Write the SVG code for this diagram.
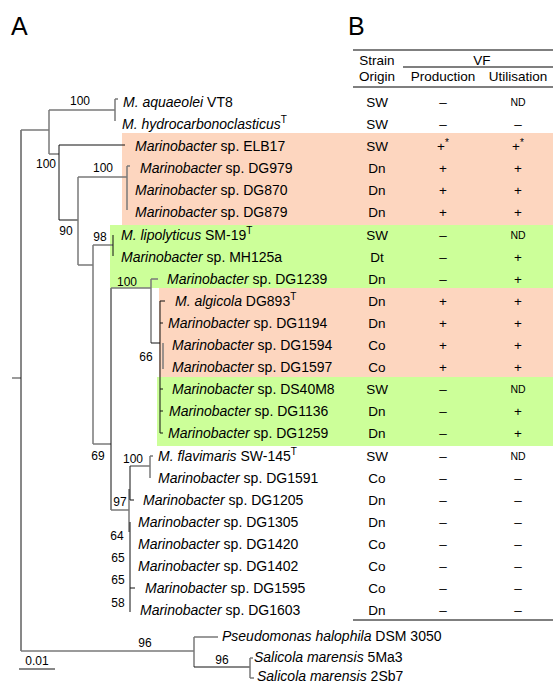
<svg xmlns="http://www.w3.org/2000/svg" width="553" height="683" viewBox="0 0 553 683">
<style>
text{font-family:"Liberation Sans",Arial,sans-serif;fill:#000}
.lab{font-size:14px}
.bs{font-size:12px;text-anchor:middle}
.cell{font-size:13.5px;text-anchor:middle}
.nd{font-size:10.5px;text-anchor:middle}
.hd{font-size:13.5px;text-anchor:middle}
.big{font-size:25px}
.it{font-style:italic}
.sup{font-size:10px}
.g{stroke:#7a7a7a;stroke-width:1.5;fill:none}
.k{stroke:#111;stroke-width:1;fill:none}
.rule{stroke:#000;stroke-width:1.2}
.or{fill:#FDD6BF}
.gr{fill:#CCFF99}
</style>
<rect width="553" height="683" fill="#fff"/>
<g id="bands">
<rect class="or" x="122" y="133" width="431" height="92"/>
<rect class="gr" x="110" y="225" width="443" height="63"/>
<rect class="or" x="159" y="288" width="394" height="89"/>
<rect class="gr" x="157" y="377" width="396" height="69"/>
</g>
<text class="big" x="11" y="35">A</text>
<text class="big" x="348" y="35">B</text>
<g id="header">
<line class="rule" x1="353" y1="50" x2="553" y2="50"/>
<line class="rule" x1="403" y1="67" x2="553" y2="67"/>
<line class="rule" x1="353" y1="87" x2="553" y2="87"/>
<line class="rule" x1="353" y1="620" x2="553" y2="620"/>
<text class="hd" x="377" y="65">Strain</text>
<text class="hd" x="482" y="65">VF</text>
<text class="hd" x="377" y="81">Origin</text>
<text class="hd" x="443" y="81">Production</text>
<text class="hd" x="518" y="81">Utilisation</text>
</g>
<g id="connectors">
<path class="g" d="M12,378H21"/>
<path class="k" d="M21,130V651"/>
<path class="g" d="M21,130H49M49,110V154M49,110H115M115,99V121M115,99H118M49,154H59"/>
<path class="k" d="M59,145V220M59,145H125M59,220H78"/>
<path class="g" d="M78,177V265M78,177H127M127,166V210M127,166H130M78,265H93M93,245V444M93,245H113"/>
<path class="k" d="M113,235V256"/>
<path class="g" d="M93,444H111"/>
<path class="k" d="M111,288V510"/>
<path class="g" d="M111,288H151M151,279V343M151,279H158"/>
<path class="k" d="M151,343H160M160,301V433M160,301H165M160,323H163M160,389H163M160,411H163M160,433H163"/>
<path class="g" d="M163,343V369"/>
<path class="g" d="M111,510H129M129,489V532M130,466H150M150,456V478M150,456H153"/>
<path class="k" d="M130,466V500M130,500H134M130,522V612M130,588H135"/>
<path class="g" d="M21,651H194M194,637V667M194,637H218"/>
<path class="k" d="M194,667H250"/>
<path class="g" d="M250,658V678M250,658H253M250,678H254"/>
<path class="k" d="M19,669H55"/>
</g>
<g id="bootstrap">
<text class="bs" x="80" y="105">100</text>
<text class="bs" x="46" y="168">100</text>
<text class="bs" x="66" y="235">90</text>
<text class="bs" x="103" y="172">100</text>
<text class="bs" x="100" y="241">98</text>
<text class="bs" x="127" y="286">100</text>
<text class="bs" x="146" y="361">66</text>
<text class="bs" x="98" y="460">69</text>
<text class="bs" x="133" y="463">100</text>
<text class="bs" x="120" y="506">97</text>
<text class="bs" x="117" y="540">64</text>
<text class="bs" x="118" y="562">65</text>
<text class="bs" x="118" y="584">65</text>
<text class="bs" x="118" y="607">58</text>
<text class="bs" x="145" y="647">96</text>
<text class="bs" x="222" y="664">96</text>
<text class="bs" x="37" y="665">0.01</text>
</g>
<g id="r0"><text class="lab" x="123" y="107"><tspan class="it">M. aquaeolei</tspan> VT8</text><text class="cell" x="377" y="107">SW</text><text class="cell" x="443" y="107">–</text><text class="nd" x="518" y="106">ND</text></g>
<g id="r1"><text class="lab" x="122" y="129"><tspan class="it">M. hydrocarbonoclasticus</tspan><tspan class="sup" dy="-6">T</tspan></text><text class="cell" x="377" y="129">SW</text><text class="cell" x="443" y="129">–</text><text class="cell" x="518" y="129">–</text></g>
<g id="r2"><text class="lab" x="135" y="151"><tspan class="it">Marinobacter</tspan> sp. ELB17</text><text class="cell" x="377" y="151">SW</text><text class="cell" x="443" y="151">+<tspan class="sup" dy="-5">*</tspan></text><text class="cell" x="518" y="151">+<tspan class="sup" dy="-5">*</tspan></text></g>
<g id="r3"><text class="lab" x="140" y="173"><tspan class="it">Marinobacter</tspan> sp. DG979</text><text class="cell" x="377" y="173">Dn</text><text class="cell" x="443" y="173">+</text><text class="cell" x="518" y="173">+</text></g>
<g id="r4"><text class="lab" x="135" y="195"><tspan class="it">Marinobacter</tspan> sp. DG870</text><text class="cell" x="377" y="195">Dn</text><text class="cell" x="443" y="195">+</text><text class="cell" x="518" y="195">+</text></g>
<g id="r5"><text class="lab" x="135" y="217"><tspan class="it">Marinobacter</tspan> sp. DG879</text><text class="cell" x="377" y="217">Dn</text><text class="cell" x="443" y="217">+</text><text class="cell" x="518" y="217">+</text></g>
<g id="r6"><text class="lab" x="121" y="240"><tspan class="it">M. lipolyticus</tspan> SM-19<tspan class="sup" dy="-6">T</tspan></text><text class="cell" x="377" y="240">SW</text><text class="cell" x="443" y="240">–</text><text class="nd" x="518" y="239">ND</text></g>
<g id="r7"><text class="lab" x="121" y="262"><tspan class="it">Marinobacter</tspan> sp. MH125a</text><text class="cell" x="377" y="262">Dt</text><text class="cell" x="443" y="262">–</text><text class="cell" x="518" y="262">+</text></g>
<g id="r8"><text class="lab" x="167" y="284"><tspan class="it">Marinobacter</tspan> sp. DG1239</text><text class="cell" x="377" y="284">Dn</text><text class="cell" x="443" y="284">–</text><text class="cell" x="518" y="284">+</text></g>
<g id="r9"><text class="lab" x="175" y="306"><tspan class="it">M. algicola</tspan> DG893<tspan class="sup" dy="-6">T</tspan></text><text class="cell" x="377" y="306">Dn</text><text class="cell" x="443" y="306">+</text><text class="cell" x="518" y="306">+</text></g>
<g id="r10"><text class="lab" x="168" y="328"><tspan class="it">Marinobacter</tspan> sp. DG1194</text><text class="cell" x="377" y="328">Dn</text><text class="cell" x="443" y="328">+</text><text class="cell" x="518" y="328">+</text></g>
<g id="r11"><text class="lab" x="172" y="350"><tspan class="it">Marinobacter</tspan> sp. DG1594</text><text class="cell" x="377" y="350">Co</text><text class="cell" x="443" y="350">+</text><text class="cell" x="518" y="350">+</text></g>
<g id="r12"><text class="lab" x="172" y="372"><tspan class="it">Marinobacter</tspan> sp. DG1597</text><text class="cell" x="377" y="372">Co</text><text class="cell" x="443" y="372">+</text><text class="cell" x="518" y="372">+</text></g>
<g id="r13"><text class="lab" x="172" y="394"><tspan class="it">Marinobacter</tspan> sp. DS40M8</text><text class="cell" x="377" y="394">SW</text><text class="cell" x="443" y="394">–</text><text class="nd" x="518" y="393">ND</text></g>
<g id="r14"><text class="lab" x="169" y="416"><tspan class="it">Marinobacter</tspan> sp. DG1136</text><text class="cell" x="377" y="416">Dn</text><text class="cell" x="443" y="416">–</text><text class="cell" x="518" y="416">+</text></g>
<g id="r15"><text class="lab" x="168" y="438"><tspan class="it">Marinobacter</tspan> sp. DG1259</text><text class="cell" x="377" y="438">Dn</text><text class="cell" x="443" y="438">–</text><text class="cell" x="518" y="438">+</text></g>
<g id="r16"><text class="lab" x="158" y="461"><tspan class="it">M. flavimaris</tspan> SW-145<tspan class="sup" dy="-6">T</tspan></text><text class="cell" x="377" y="461">SW</text><text class="cell" x="443" y="461">–</text><text class="nd" x="518" y="460">ND</text></g>
<g id="r17"><text class="lab" x="158" y="483"><tspan class="it">Marinobacter</tspan> sp. DG1591</text><text class="cell" x="377" y="483">Co</text><text class="cell" x="443" y="483">–</text><text class="cell" x="518" y="483">–</text></g>
<g id="r18"><text class="lab" x="143" y="505"><tspan class="it">Marinobacter</tspan> sp. DG1205</text><text class="cell" x="377" y="505">Dn</text><text class="cell" x="443" y="505">–</text><text class="cell" x="518" y="505">–</text></g>
<g id="r19"><text class="lab" x="138" y="527"><tspan class="it">Marinobacter</tspan> sp. DG1305</text><text class="cell" x="377" y="527">Dn</text><text class="cell" x="443" y="527">–</text><text class="cell" x="518" y="527">–</text></g>
<g id="r20"><text class="lab" x="138" y="549"><tspan class="it">Marinobacter</tspan> sp. DG1420</text><text class="cell" x="377" y="549">Co</text><text class="cell" x="443" y="549">–</text><text class="cell" x="518" y="549">–</text></g>
<g id="r21"><text class="lab" x="138" y="571"><tspan class="it">Marinobacter</tspan> sp. DG1402</text><text class="cell" x="377" y="571">Co</text><text class="cell" x="443" y="571">–</text><text class="cell" x="518" y="571">–</text></g>
<g id="r22"><text class="lab" x="145" y="593"><tspan class="it">Marinobacter</tspan> sp. DG1595</text><text class="cell" x="377" y="593">Co</text><text class="cell" x="443" y="593">–</text><text class="cell" x="518" y="593">–</text></g>
<g id="r23"><text class="lab" x="140" y="615"><tspan class="it">Marinobacter</tspan> sp. DG1603</text><text class="cell" x="377" y="615">Dn</text><text class="cell" x="443" y="615">–</text><text class="cell" x="518" y="615">–</text></g>
<g id="o1"><text class="lab" x="222" y="641"><tspan class="it">Pseudomonas halophila</tspan> DSM 3050</text></g>
<g id="o2"><text class="lab" x="254" y="662"><tspan class="it">Salicola marensis</tspan> 5Ma3</text></g>
<g id="o3"><text class="lab" x="257" y="681"><tspan class="it">Salicola marensis</tspan> 2Sb7</text></g>
</svg>
